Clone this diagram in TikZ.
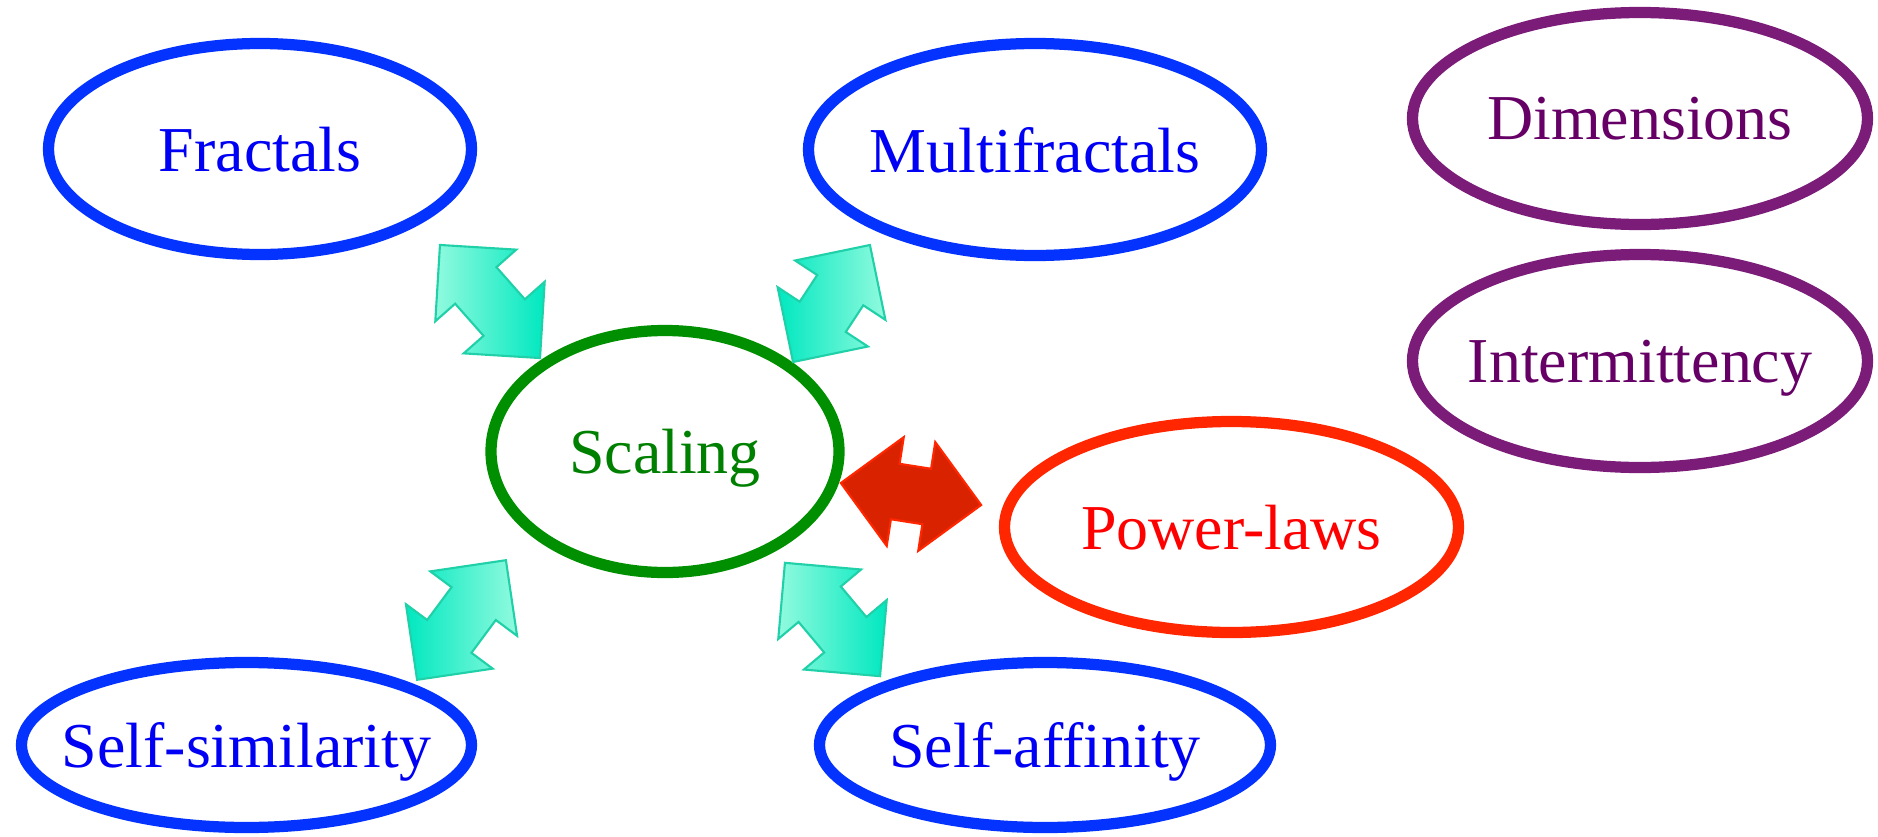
\documentclass[tikz,border=0pt]{standalone}
\usepackage{fontspec}
\setmainfont{Liberation Serif}
\usetikzlibrary{shapes.geometric, shapes.arrows}

\definecolor{ringblue}{RGB}{4, 51, 255}
\definecolor{wordblue}{RGB}{0, 0, 245}
\definecolor{ringgreen}{RGB}{0, 143, 0}
\definecolor{wordgreen}{RGB}{0, 128, 0}
\definecolor{ringred}{RGB}{255, 38, 0}
\definecolor{wordred}{RGB}{255, 0, 0}
\definecolor{ringpurple}{RGB}{122, 28, 120}
\definecolor{wordpurple}{RGB}{102, 0, 102}
\definecolor{tealhi}{RGB}{145, 250, 222}
\definecolor{teallo}{RGB}{0, 232, 192}
\definecolor{tealedge}{RGB}{32, 208, 168}
\definecolor{arrowred}{RGB}{217, 35, 0}

\begin{document}
\begin{tikzpicture}[
  bubble/.style={ellipse, draw, line width=3.2pt, fill=white, inner sep=0pt, inner xsep=-0.6cm,
    text depth=0pt, font=\fontsize{18.2}{22}\selectfont},
  link/.style={double arrow, draw=tealedge, line width=0.6pt, minimum width=1.06cm,
    double arrow head extend=0.265cm, inner sep=0.265cm}
]
  \useasboundingbox (0, 0) rectangle (18.78, 8.36);

  % the ideas
  \node[bubble, draw=ringblue, text=wordblue, minimum width=4.23cm, minimum height=2.11cm] (fractals) at (2.60, 6.87) {Fractals};
  \node[bubble, draw=ringblue, text=wordblue, minimum width=4.53cm, minimum height=2.12cm] (multi) at (10.35, 6.865) {Multifractals};
  \node[bubble, draw=ringpurple, text=wordpurple, minimum width=4.55cm, minimum height=2.12cm] (dims) at (16.40, 7.175) {Dimensions};
  \node[bubble, draw=ringpurple, text=wordpurple, minimum width=4.55cm, minimum height=2.13cm] (interm) at (16.40, 4.75) {Intermittency};
  \node[bubble, draw=ringgreen, text=wordgreen, minimum width=3.48cm, minimum height=2.42cm] (scaling) at (6.65, 3.845) {Scaling};
  \node[bubble, draw=ringred, text=wordred, minimum width=4.54cm, minimum height=2.11cm] (power) at (12.315, 3.09) {Power-laws};
  \node[bubble, draw=ringblue, text=wordblue, minimum width=4.50cm, minimum height=1.65cm] (selfsim) at (2.465, 0.91) {Self-similarity};
  \node[bubble, draw=ringblue, text=wordblue, minimum width=4.51cm, minimum height=1.65cm] (selfaff) at (10.45, 0.91) {Self-affinity};

  % links to scaling
  \node[link, left color=tealhi, right color=teallo, rotate=-48.5, minimum height=1.51cm] (fracscal) at (4.90, 5.345) {};
  \node[link, left color=teallo, right color=tealhi, rotate=56.7, minimum height=1.40cm] (multiscal) at (8.315, 5.325) {};
  \node[link, left color=teallo, right color=tealhi, rotate=53.4, minimum height=1.49cm] (simscal) at (4.615, 2.16) {};
  \node[link, left color=tealhi, right color=teallo, rotate=-50, minimum height=1.48cm] (affscal) at (8.325, 2.165) {};
  \node[link, draw=ringred, fill=arrowred, rotate=-8.9, minimum height=1.42cm, minimum width=1.08cm,
    inner sep=0.27cm, double arrow head extend=0.27cm] (scalpower) at (9.11, 3.42) {};
\end{tikzpicture}
\end{document}
